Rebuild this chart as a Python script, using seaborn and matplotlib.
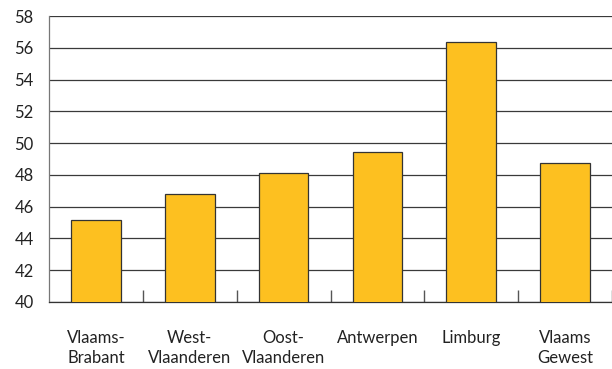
import matplotlib
matplotlib.use("Agg")
import matplotlib.pyplot as plt
import seaborn as sns
import pandas as pd
import numpy as np

categories = ["Vlaams-\nBrabant", "West-\nVlaanderen", "Oost-\nVlaanderen", "Antwerpen", "Limburg", "Vlaams\nGewest"]
values = [45.15, 46.8, 48.15, 49.45, 56.35, 48.75]
yticks = [40, 42, 44, 46, 48, 50, 52, 54, 56, 58]

sns.set_style("white")
plt.rcParams['font.family'] = ['Lato', 'DejaVu Sans']

df = pd.DataFrame({"cat": categories, "val": values})

fig = plt.figure(figsize=(6.12, 3.69), dpi=100)
ax = fig.add_axes([49/612, 1-302/369, (612-49)/612, (302-16)/369])

sns.barplot(data=df, x="cat", y="val", color="#FDC020", saturation=1, width=0.53,
            edgecolor="#333333", linewidth=0.9, ax=ax, zorder=3)

ax.set_ylim(40, 58)
ax.set_xlim(-0.5, 5.5)
ax.set_yticks(yticks)
ax.set_yticklabels([str(t) for t in yticks], fontsize=12, color="#222222")
ax.set_xlabel("")
ax.set_ylabel("")
ax.yaxis.grid(True, color="#3a3a3a", linewidth=0.9, zorder=0)
ax.set_axisbelow(True)
ax.tick_params(axis='y', length=0, pad=11)
ax.tick_params(axis='x', which='major', length=0, pad=20, labelsize=12, labelcolor="#222222")
ax.set_xticks(range(len(categories)))
ax.set_xticklabels(categories, va="top", linespacing=1.35)
ax.set_xticks(np.arange(0.5, 6.0, 1.0), minor=True)
ax.tick_params(axis='x', which='minor', bottom=True, direction='in', length=9, width=1.0, color="#555555")
for s in ["top", "right"]:
    ax.spines[s].set_visible(False)
ax.spines["left"].set_color("#777777")
ax.spines["left"].set_linewidth(0.9)
ax.spines["bottom"].set_color("#333333")
ax.spines["bottom"].set_linewidth(0.9)

fig.savefig("out.png", dpi=100)
